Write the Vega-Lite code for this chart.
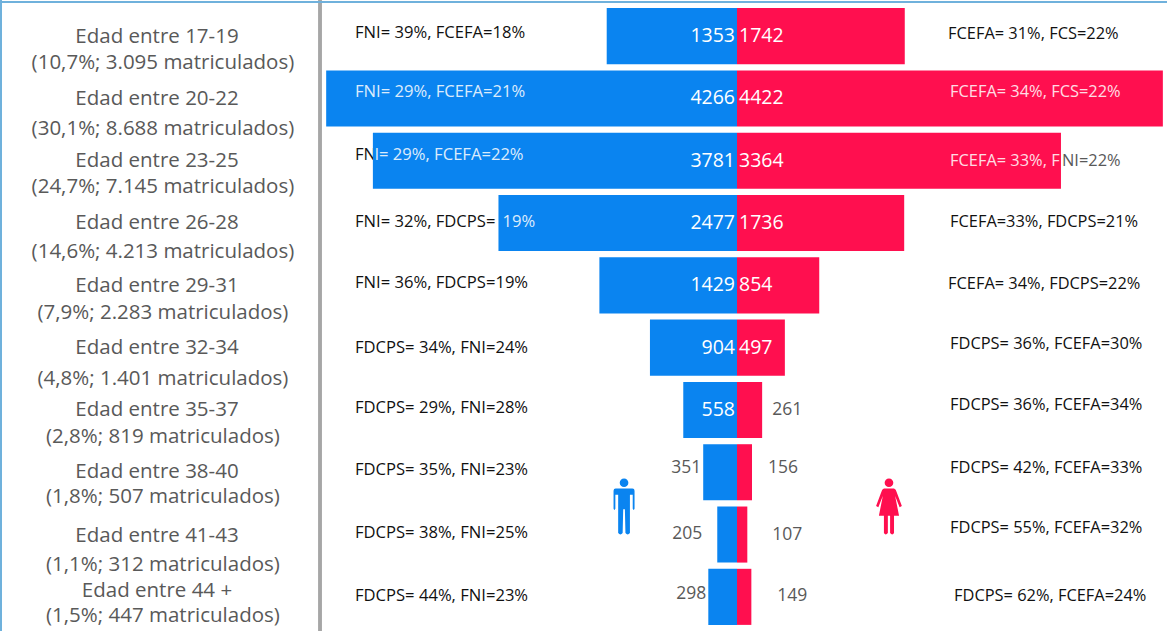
{
"$schema":"https://vega.github.io/schema/vega-lite/v6.json",
"width":1167,"height":631,"autosize":{"type":"none"},"padding":0,
"background":"white",
"config":{"view":{"stroke":null},"axis":{"grid":false}},
"datasets":{"rows":[
{"age":"17-19","l1":"Edad entre 17-19","l2":"(10,7%; 3.095 matriculados)","h":-1353,"m":1742,"hn":"1353","mn":"1742","lk":"FNI= 39%, FCEFA=18%","lw":"","lb":"","rk":"FCEFA= 31%, FCS=22%","rw":"","re":""},
{"age":"20-22","l1":"Edad entre 20-22","l2":"(30,1%; 8.688 matriculados)","h":-4266,"m":4422,"hn":"4266","mn":"4422","lk":"","lw":"FNI= 29%, FCEFA=21%","lb":"","rk":"","rw":"FCEFA= 34%, FCS=22%","re":""},
{"age":"23-25","l1":"Edad entre 23-25","l2":"(24,7%; 7.145 matriculados)","h":-3781,"m":3364,"hn":"3781","mn":"3364","lk":"FN","lw":"","lb":"I= 29%, FCEFA=22%","rk":"","rw":"FCEFA= 33%, F","re":"NI=22%"},
{"age":"26-28","l1":"Edad entre 26-28","l2":"(14,6%; 4.213 matriculados)","h":-2477,"m":1736,"hn":"2477","mn":"1736","lk":"FNI= 32%, FDCPS=","lw":"","lb":"19%","rk":"FCEFA=33%, FDCPS=21%","rw":"","re":""},
{"age":"29-31","l1":"Edad entre 29-31","l2":"(7,9%; 2.283 matriculados)","h":-1429,"m":854,"hn":"1429","mn":"854","lk":"FNI= 36%, FDCPS=19%","lw":"","lb":"","rk":"FCEFA= 34%, FDCPS=22%","rw":"","re":""},
{"age":"32-34","l1":"Edad entre 32-34","l2":"(4,8%; 1.401 matriculados)","h":-904,"m":497,"hn":"904","mn":"497","lk":"FDCPS= 34%, FNI=24%","lw":"","lb":"","rk":"FDCPS= 36%, FCEFA=30%","rw":"","re":""},
{"age":"35-37","l1":"Edad entre 35-37","l2":"(2,8%; 819 matriculados)","h":-558,"m":261,"hn":"558","mn":"261","lk":"FDCPS= 29%, FNI=28%","lw":"","lb":"","rk":"FDCPS= 36%, FCEFA=34%","rw":"","re":""},
{"age":"38-40","l1":"Edad entre 38-40","l2":"(1,8%; 507 matriculados)","h":-351,"m":156,"hn":"351","mn":"156","lk":"FDCPS= 35%, FNI=23%","lw":"","lb":"","rk":"FDCPS= 42%, FCEFA=33%","rw":"","re":""},
{"age":"41-43","l1":"Edad entre 41-43","l2":"(1,1%; 312 matriculados)","h":-205,"m":107,"hn":"205","mn":"107","lk":"FDCPS= 38%, FNI=25%","lw":"","lb":"","rk":"FDCPS= 55%, FCEFA=32%","rw":"","re":""},
{"age":"44+","l1":"Edad entre 44 +","l2":"(1,5%; 447 matriculados)","h":-298,"m":149,"hn":"298","mn":"149","lk":"FDCPS= 44%, FNI=23%","lw":"","lb":"","rk":"FDCPS= 62%, FCEFA=24%","rw":"","re":""}
]},
"data":{"name":"rows"},
"encoding":{
"y":{"field":"age","type":"nominal","sort":null,"axis":null,"scale":{"domain":["17-19","20-22","23-25","26-28","29-31","32-34","35-37","38-40","41-43","44+"],"range":[5,628],"paddingInner":0.1,"paddingOuter":0.05}}
},
"layer":[
{"mark":{"type":"rule","color":"#6FB1DC","strokeWidth":2},"encoding":{"y":null,"x":{"datum":-7643,"type":"quantitative","axis":null,"scale":{"domain":[-7653,4465],"range":[0,1167],"nice":false,"zero":false}}}},
{"mark":{"type":"rule","color":"#A6A6A6","strokeWidth":2.5},"encoding":{"y":null,"x":{"datum":-4330,"type":"quantitative"}}},
{"transform":[{"filter":"datum.age=='17-19'"}],"mark":{"type":"rule","color":"#6FB1DC","strokeWidth":2},"encoding":{"y":{"field":"age","type":"nominal","bandPosition":-0.107}}},
{"mark":{"type":"text","font":"Open Sans","fontSize":16.6,"align":"left","color":"#111111","dy":{"expr":"[-3,-6,-6,-1,-2,0,-2,-2,-2,-1][indexof(['17-19','20-22','23-25','26-28','29-31','32-34','35-37','38-40','41-43','44+'],datum.age)]"}},"encoding":{"x":{"datum":-3967,"type":"quantitative"},"text":{"field":"lk"}}},
{"mark":{"type":"text","font":"Open Sans","fontSize":16.4,"align":"left","color":"#111111","dx":{"expr":"[-2,0,0,0,-2,0,0,0,0,4][indexof(['17-19','20-22','23-25','26-28','29-31','32-34','35-37','38-40','41-43','44+'],datum.age)]"},"dy":{"expr":"[-2,-6,0,-1,-1,-4,-5,-4,-7,-1][indexof(['17-19','20-22','23-25','26-28','29-31','32-34','35-37','38-40','41-43','44+'],datum.age)]"}},"encoding":{"x":{"datum":2212,"type":"quantitative"},"text":{"field":"rk"}}},
{"mark":{"type":"bar","color":"#0A84F0"},"encoding":{"x":{"field":"h","type":"quantitative"},"x2":{"datum":0}}},
{"mark":{"type":"bar","color":"#FF0F4F"},"encoding":{"x":{"field":"m","type":"quantitative"},"x2":{"datum":0}}},
{"mark":{"type":"text","font":"Open Sans","fontSize":16.6,"align":"left","color":"#FFFFFF","opacity":0.85,"dy":-6},"encoding":{"x":{"datum":-3967,"type":"quantitative"},"text":{"field":"lw"}}},
{"transform":[{"filter":"datum.age=='23-25'"}],"mark":{"type":"text","font":"Open Sans","fontSize":16.6,"align":"left","color":"#FFFFFF","opacity":0.85,"dx":1.5,"dy":-6},"encoding":{"x":{"field":"h","type":"quantitative"},"text":{"field":"lb"}}},
{"transform":[{"filter":"datum.age=='26-28'"}],"mark":{"type":"text","font":"Open Sans","fontSize":16.6,"align":"left","color":"#FFFFFF","opacity":0.85,"dx":4,"dy":-1},"encoding":{"x":{"field":"h","type":"quantitative"},"text":{"field":"lb"}}},
{"mark":{"type":"text","font":"Open Sans","fontSize":16.4,"align":"left","color":"#FFFFFF","opacity":0.85,"dy":{"expr":"datum.age=='20-22'?-6:0"}},"encoding":{"x":{"datum":2212,"type":"quantitative"},"text":{"field":"rw"}}},
{"mark":{"type":"text","font":"Open Sans","fontSize":16.4,"align":"left","color":"#595959","dx":1},"encoding":{"x":{"field":"m","type":"quantitative"},"text":{"field":"re"}}},
{"transform":[{"filter":"datum.h<-500"}],"mark":{"type":"text","font":"Open Sans","fontSize":19.5,"align":"right","color":"#FFFFFF","dx":-2},"encoding":{"x":{"datum":0,"type":"quantitative"},"text":{"field":"hn"}}},
{"transform":[{"filter":"datum.m>400"}],"mark":{"type":"text","font":"Open Sans","fontSize":19.5,"align":"left","color":"#FFFFFF","dx":2},"encoding":{"x":{"datum":0,"type":"quantitative"},"text":{"field":"mn"}}},
{"transform":[{"filter":"datum.age=='38-40'"}],"mark":{"type":"text","font":"Open Sans","fontSize":17.5,"align":"right","color":"#595959","dx":-2,"dy":-4},"encoding":{"x":{"field":"h","type":"quantitative"},"text":{"field":"hn"}}},
{"transform":[{"filter":"datum.age=='41-43'"}],"mark":{"type":"text","font":"Open Sans","fontSize":17.5,"align":"right","color":"#595959","dx":-15,"dy":-1},"encoding":{"x":{"field":"h","type":"quantitative"},"text":{"field":"hn"}}},
{"transform":[{"filter":"datum.age=='44+'"}],"mark":{"type":"text","font":"Open Sans","fontSize":17.5,"align":"right","color":"#595959","dx":-2,"dy":-3},"encoding":{"x":{"field":"h","type":"quantitative"},"text":{"field":"hn"}}},
{"transform":[{"filter":"datum.age=='35-37'"}],"mark":{"type":"text","font":"Open Sans","fontSize":17.5,"align":"left","color":"#595959","dx":10},"encoding":{"x":{"field":"m","type":"quantitative"},"text":{"field":"mn"}}},
{"transform":[{"filter":"datum.age=='38-40'"}],"mark":{"type":"text","font":"Open Sans","fontSize":17.5,"align":"left","color":"#595959","dx":16,"dy":-4},"encoding":{"x":{"field":"m","type":"quantitative"},"text":{"field":"mn"}}},
{"transform":[{"filter":"datum.age=='41-43'"}],"mark":{"type":"text","font":"Open Sans","fontSize":17.5,"align":"left","color":"#595959","dx":25},"encoding":{"x":{"field":"m","type":"quantitative"},"text":{"field":"mn"}}},
{"transform":[{"filter":"datum.age=='44+'"}],"mark":{"type":"text","font":"Open Sans","fontSize":17.5,"align":"left","color":"#595959","dx":26,"dy":-1},"encoding":{"x":{"field":"m","type":"quantitative"},"text":{"field":"mn"}}},
{"mark":{"type":"text","font":"Open Sans","fontSize":20.5,"align":"center","color":"#595959","dy":{"expr":"[1,1,0,0,1,0,0,0,1,-6][indexof(['17-19','20-22','23-25','26-28','29-31','32-34','35-37','38-40','41-43','44+'],datum.age)]"}},"encoding":{"x":{"datum":-6023,"type":"quantitative"},"text":{"field":"l1"}}},
{"mark":{"type":"text","font":"Open Sans","fontSize":20.5,"align":"center","color":"#595959","dy":{"expr":"[27,31,26,29,28,31,27,25,30,19][indexof(['17-19','20-22','23-25','26-28','29-31','32-34','35-37','38-40','41-43','44+'],datum.age)]"}},"encoding":{"x":{"datum":-5961,"type":"quantitative"},"text":{"field":"l2"}}},
{"transform":[{"filter":"datum.age=='41-43'"}],"mark":{"type":"point","filled":true,"opacity":1,"size":3136,"color":"#0A84F0","stroke":null,"shape":"M-.155,-.85 A.155,.155 0 1 1 .155,-.85 A.155,.155 0 1 1 -.155,-.85 Z M-.3,-.64 L.3,-.64 Q.375,-.64 .375,-.56 L.375,.08 Q.345,.16 .31,.08 L.31,-.42 L.27,-.42 L.21,-.42 L.21,.95 Q.13,1.05 .05,.95 L.03,.1 L-.03,.1 L-.05,.95 Q-.13,1.05 -.21,.95 L-.21,-.42 L-.31,-.42 L-.31,.08 Q-.345,.16 -.375,.08 L-.375,-.56 Q-.375,-.64 -.3,-.64 Z"},"encoding":{"x":{"datum":-1173,"type":"quantitative"},"y":{"field":"age","type":"nominal","bandPosition":0}}},
{"transform":[{"filter":"datum.age=='41-43'"}],"mark":{"type":"point","filled":true,"opacity":1,"size":3136,"color":"#FF0F4F","stroke":null,"shape":"M-.155,-.85 A.155,.155 0 1 1 .155,-.85 A.155,.155 0 1 1 -.155,-.85 Z M-.18,-.64 L.18,-.64 Q.25,-.62 .28,-.5 L.46,-.02 L.38,.03 L.22,-.38 L.36,.33 L.18,.33 L.18,.95 Q.12,1.05 .04,.95 L.04,.33 L-.04,.33 L-.04,.95 Q-.12,1.05 -.18,.95 L-.18,.33 L-.36,.33 L-.22,-.38 L-.38,.03 L-.46,-.02 L-.28,-.5 Q-.25,-.62 -.18,-.64 Z"},"encoding":{"x":{"datum":1578,"type":"quantitative"},"y":{"field":"age","type":"nominal","bandPosition":0}}}
]
}
